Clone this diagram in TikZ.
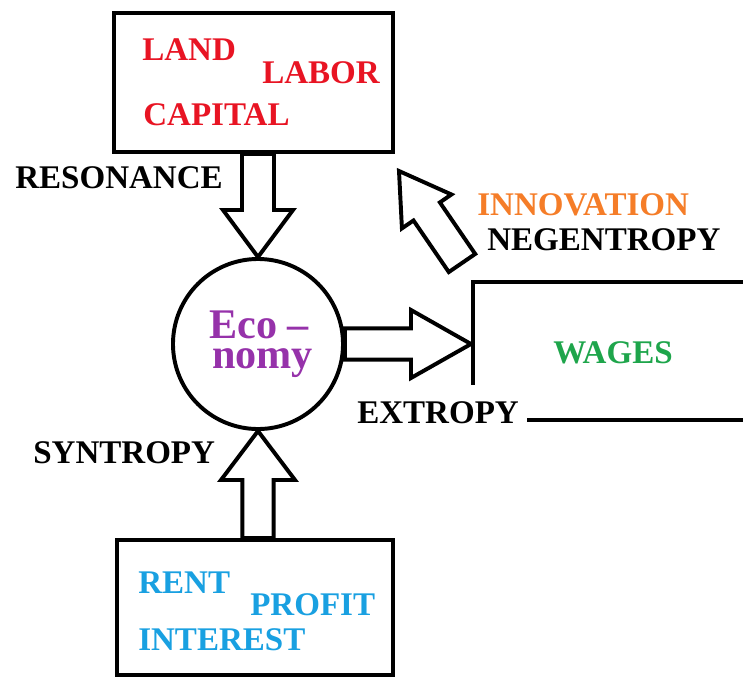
\documentclass[tikz,border=0pt]{standalone}
\usepackage{fontspec}
\setmainfont{Liberation Serif}
\usetikzlibrary{calc}

\definecolor{factred}{RGB}{232,20,35}
\definecolor{innorange}{RGB}{245,125,40}
\definecolor{wagegreen}{RGB}{30,165,75}
\definecolor{incblue}{RGB}{25,160,225}
\definecolor{ecopurple}{RGB}{150,50,170}

% hollow block arrow: start, tip, shaft half width, head half width, head length
\newcommand\fatarrow[5]{%
	\coordinate (fa-h) at ($(#2)!#5!(#1)$);
	\draw[fat] ($(#1)!#3!90:(#2)$) -- ($(fa-h)!#3!90:(#2)$) -- ($(fa-h)!#4!90:(#2)$) -- (#2)
		-- ($(fa-h)!#4!-90:(#2)$) -- ($(fa-h)!#3!-90:(#2)$) -- ($(#1)!#3!-90:(#2)$) -- cycle;
}

\begin{document}
\begin{tikzpicture}[x=0.025cm, y=-0.025cm,
		box/.style={draw, line width=2.8pt, inner sep=0pt},
		fat/.style={draw, line width=2.8pt, fill=white, line join=miter},
		lbl/.style={font=\bfseries\fontsize{23.5}{28}\selectfont, inner sep=0pt, anchor=base west}]
	\useasboundingbox (0,0) rectangle (743,679);
	\clip (0,0) rectangle (743,679);
	
	\node[box, minimum width=6.975cm, minimum height=3.475cm] (factors) at (253.5,82.5) {};
	\node[box, minimum width=6.9cm, minimum height=3.375cm] (income) at (255,607.5) {};
	\node[box, minimum width=8.5cm, minimum height=3.45cm] (wages) at (643,351) {};
	\node[box, circle, minimum size=4.25cm] (eco) at (258,344) {};
	\node[lbl, text=ecopurple, font=\bfseries\fontsize{30}{30}\selectfont] (ecoa) at (209,338) {Eco --};
	\node[lbl, text=ecopurple, font=\bfseries\fontsize{30}{30}\selectfont] (ecob) at (212,368) {nomy};
	
	\node[lbl, text=factred] (land) at (142,60) {LAND};
	\node[lbl, text=factred] (labor) at (262,83) {LABOR};
	\node[lbl, text=factred] (capital) at (143,125) {CAPITAL};
	
	\node[lbl, text=incblue] (rent) at (138,593) {RENT};
	\node[lbl, text=incblue] (profit) at (250,615) {PROFIT};
	\node[lbl, text=incblue] (interest) at (138,650) {INTEREST};
	
	\node[lbl, text=wagegreen] (wagestxt) at (553,363) {WAGES};
	
	\node[lbl] (resonance) at (15,188) {RESONANCE};
	\node[lbl] (syntropy) at (33,463) {SYNTROPY};
	\node[lbl, text=innorange] (innovation) at (477,215) {INNOVATION};
	\node[lbl] (negentropy) at (487,250) {NEGENTROPY};
	\node[lbl, fill=white, inner xsep=0.2cm, inner ysep=0.4cm] (extropy) at (349,423) {EXTROPY};
	
	\coordinate (res-s) at (factors.south -| eco.north);
	\fatarrow{res-s}{eco.north}{0.4cm}{0.875cm}{1.175cm}
	\coordinate (syn-s) at (income.north -| eco.south);
	\fatarrow{syn-s}{eco.south}{0.39cm}{0.925cm}{1.225cm}
	\coordinate (ext-t) at (wages.west |- eco.east);
	\fatarrow{eco.east}{ext-t}{0.39cm}{0.85cm}{1.5cm}
	\coordinate (inn-s) at (462,263);
	\coordinate (inn-t) at (399,171);
	\fatarrow{inn-s}{inn-t}{0.4cm}{0.75cm}{1.225cm}
\end{tikzpicture}
\end{document}
